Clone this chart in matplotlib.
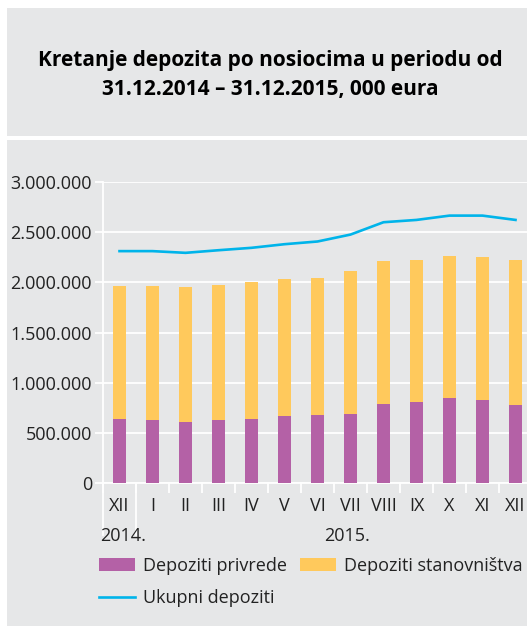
import matplotlib
matplotlib.use('Agg')
import matplotlib.pyplot as plt
from matplotlib.patches import Rectangle, Patch
from matplotlib.lines import Line2D
from matplotlib.ticker import FuncFormatter
import matplotlib.transforms as mtransforms

# data, 000 eura
months = ['XII', 'I', 'II', 'III', 'IV', 'V', 'VI', 'VII', 'VIII', 'IX', 'X', 'XI', 'XII']
privrede = [640000, 623000, 610000, 623000, 640000, 663000, 676000, 690000,
            792000, 809000, 845000, 832000, 779000]
stanovnistva = [1322000, 1339000, 1342000, 1353000, 1362000, 1366000, 1366000,
                1418000, 1419000, 1415000, 1416000, 1419000, 1445000]
ukupni = [2311000, 2311000, 2294000, 2320000, 2344000, 2380000, 2407000,
          2476000, 2599000, 2622000, 2665000, 2665000, 2622000]
years = ['2014.', '2015.']
yticks = [0, 500000, 1000000, 1500000, 2000000, 2500000, 3000000]

bg = '#E6E7E8'
purple = '#B461A6'
yellow = '#FFC95C'
blue = '#00B4EA'
txt = '#222222'

plt.rcParams['font.family'] = ['Open Sans', 'DejaVu Sans']

W, H = 527, 626
fig = plt.figure(figsize=(W / 100, H / 100), dpi=100)
fig.patch.set_facecolor('white')

# gray panels
fig.add_artist(Rectangle((7 / W, 1 - 136 / H), 1, 128 / H, transform=fig.transFigure,
                         facecolor=bg, edgecolor='none', zorder=-5))
fig.add_artist(Rectangle((7 / W, 0), 1, 1 - 139.5 / H, transform=fig.transFigure,
                         facecolor=bg, edgecolor='none', zorder=-5))

fig.text(0.512, 1 - 75 / H, 'Kretanje depozita po nosiocima u periodu od\n31.12.2014 – 31.12.2015, 000 eura',
         ha='center', va='center', fontsize=15, fontweight='bold', color='black', linespacing=1.55)

ax = fig.add_axes([103 / W, 1 - 483 / H, 429 / W, 301 / H])
ax.set_facecolor(bg)
x = list(range(len(months)))
ax.bar(x, privrede, width=0.4, color=purple, zorder=3)
ax.bar(x, stanovnistva, width=0.4, bottom=privrede, color=yellow, zorder=3)
ax.plot(x, ukupni, color=blue, lw=1.9, zorder=4)

ax.set_xlim(-0.5, 12.5)
ax.set_ylim(0, 3000000)
ax.set_yticks(yticks)
ax.yaxis.set_major_formatter(FuncFormatter(lambda v, p: f'{int(v):,}'.replace(',', '.')))
ax.grid(axis='y', color='white', lw=1.3, zorder=1)
ax.set_axisbelow(True)

ax.set_xticks([i - 0.5 for i in range(len(months) + 1)])
ax.set_xticklabels([])
ax.set_xticks(x, minor=True)
ax.set_xticklabels(months, minor=True)
ax.tick_params(axis='x', which='major', length=7, width=1.3, color='white')
ax.tick_params(axis='x', which='minor', length=0, pad=10, labelsize=13, labelcolor=txt)
ax.tick_params(axis='y', length=6, width=1.3, color='white', pad=2, labelsize=13, labelcolor=txt)

for s in ['top', 'right']:
    ax.spines[s].set_visible(False)
for s in ['left', 'bottom']:
    ax.spines[s].set_color('white')
    ax.spines[s].set_linewidth(1.3)

# long separators for the year groups
trans = mtransforms.blended_transform_factory(ax.transData, ax.transAxes)
for xv in [-0.5, 0.5]:
    ax.plot([xv, xv], [0, -0.173], transform=trans, color='white', lw=1.3, clip_on=False)

ax.text(-0.6, -0.175, years[0], transform=trans, ha='left', va='center', fontsize=13, color=txt)
ax.text(6.2, -0.175, years[1], transform=trans, ha='left', va='center', fontsize=13, color=txt)

handles = [Patch(facecolor=purple, label='Depoziti privrede'),
           Line2D([], [], color=blue, lw=1.9, label='Ukupni depoziti'),
           Patch(facecolor=yellow, label='Depoziti stanovništva')]
fig.legend(handles=handles, ncol=2, loc='upper left', bbox_to_anchor=(99 / W, 1 - 557 / H),
           frameon=False, fontsize=13, handlelength=2.0, handletextpad=0.45,
           columnspacing=0.7, labelspacing=0.78, borderpad=0, borderaxespad=0,
           labelcolor=txt)

fig.savefig('out.png', dpi=100, facecolor='white')
